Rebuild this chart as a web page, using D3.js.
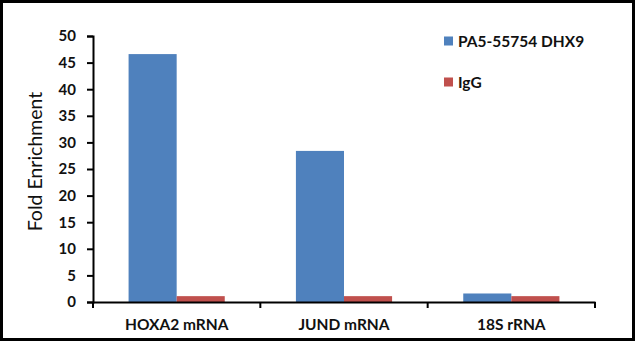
<!DOCTYPE html>
<html><head><meta charset="utf-8">
<script src="https://cdn.jsdelivr.net/npm/d3@7/dist/d3.min.js"></script>
<style>html,body{margin:0;padding:0;background:#fff}svg{display:block}</style>
</head><body>
<script>
const categories = ["HOXA2 mRNA", "JUND mRNA", "18S rRNA"];
const seriesNames = ["PA5-55754 DHX9", "IgG"];
const dhx9Values = [46.6, 28.4, 1.6];
const iggValues = [1.1, 1.1, 1.1];
const yTicks = [0, 5, 10, 15, 20, 25, 30, 35, 40, 45, 50];
const colors = ["#4F81BD", "#C0504D"];

const W = 635, H = 341;
const svg = d3.select("body").append("svg").attr("width", W).attr("height", H);
svg.append("rect").attr("x", 1.5).attr("y", 1.5).attr("width", W - 3).attr("height", H - 3)
  .attr("fill", "#fff").attr("stroke", "#000").attr("stroke-width", 3);

const x0 = 93, x1 = 595, yTop = 36, yBot = 302;
const x = d3.scaleBand().domain(categories).range([x0, x1]).paddingInner(0).paddingOuter(0);
const xs = d3.scaleBand().domain(seriesNames).range([0, x.bandwidth()]).paddingOuter(0.74).paddingInner(0);
const y = d3.scaleLinear().domain([0, 50]).range([yBot, yTop]);

const font = "Lato, 'Open Sans', sans-serif";
const ink = "#111";

const data = [dhx9Values, iggValues];
seriesNames.forEach((s, si) => {
  svg.append("g").selectAll("rect").data(categories).join("rect")
    .attr("x", c => x(c) + xs(s))
    .attr("width", xs.bandwidth())
    .attr("y", (c, i) => y(data[si][i]))
    .attr("height", (c, i) => yBot - y(data[si][i]))
    .attr("fill", colors[si]);
});

// Y axis
const yAxis = svg.append("g").attr("transform", `translate(${x0},0)`)
  .call(d3.axisLeft(y).tickValues(yTicks).tickSize(6).tickPadding(11));
yAxis.select(".domain").attr("stroke", "#000").attr("stroke-width", 2);
yAxis.selectAll(".tick line").attr("stroke", "#000").attr("stroke-width", 2);
yAxis.selectAll("text").attr("font-family", font).attr("font-weight", "bold")
  .attr("font-size", 15).attr("fill", ink);

// X axis
const xAxis = svg.append("g").attr("transform", `translate(0,${yBot})`)
  .call(d3.axisBottom(x).tickSize(0).tickPadding(17));
xAxis.select(".domain").attr("stroke", "#000").attr("stroke-width", 2);
xAxis.selectAll("text").attr("font-family", font).attr("font-weight", "bold")
  .attr("font-size", 15.5).attr("fill", ink);
// category boundary ticks
const bounds = categories.map(c => x(c)).concat([x1]);
svg.append("g").selectAll("line").data(bounds).join("line")
  .attr("x1", d => d).attr("x2", d => d).attr("y1", yBot).attr("y2", yBot + 6)
  .attr("stroke", "#000").attr("stroke-width", 2);

// Y title
svg.append("text").attr("transform", `translate(42,${161.5}) rotate(-90)`)
  .attr("text-anchor", "middle").attr("font-family", font).attr("font-size", 19.5)
  .attr("fill", ink).text("Fold Enrichment");

// Legend
const legY = [36.5, 77.5];
seriesNames.forEach((s, i) => {
  svg.append("rect").attr("x", 444).attr("y", legY[i]).attr("width", 9).attr("height", 9).attr("fill", colors[i]);
  svg.append("text").attr("x", 458).attr("y", legY[i] + 10.5).attr("font-family", font)
    .attr("font-weight", "bold").attr("font-size", 15.5).attr("fill", ink).text(s);
});
</script>
</body></html>
